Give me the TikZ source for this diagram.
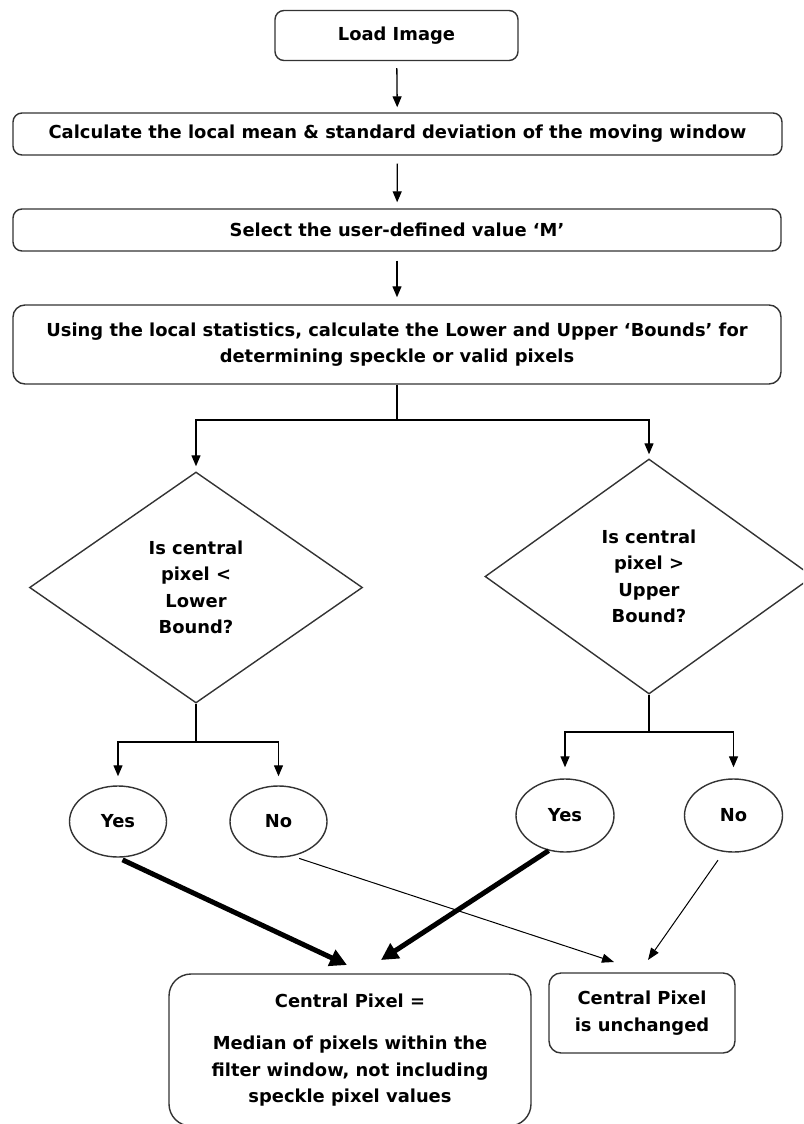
\documentclass[tikz,border=0pt]{standalone}
\usepackage{fontspec}
\setmainfont{DejaVu Sans}
\usetikzlibrary{shapes.geometric,arrows.meta}

\tikzset{
  base/.style={draw=black!80, line width=1.4pt, inner sep=0pt, align=center,
    font=\bfseries\fontsize{17.9}{26.5}\selectfont},
  procbox/.style={base, rectangle, rounded corners=9pt},
  decision/.style={base, diamond},
  answer/.style={base, ellipse},
  txt/.style={inner sep=0pt, align=center, font=\bfseries\fontsize{17.9}{26.5}\selectfont},
  flow/.style={line width=1.3pt, -{Triangle[length=11pt,width=9pt]}},
  plain/.style={line width=1.3pt},
  heavy/.style={line width=5pt, -{Triangle[length=17pt,width=17pt]}},
  light/.style={line width=1pt, -{Triangle[length=12pt,width=9pt]}}
}

\begin{document}
\begin{tikzpicture}[x=1pt,y=-1pt]
\useasboundingbox (0,0) rectangle (803,1124);
\clip (0,0) rectangle (803,1124);

% process steps
\node[procbox, minimum width=243pt, minimum height=50pt] (load) at (396.5,35.5) {Load Image};
\node[procbox, minimum width=769pt, minimum height=42pt] (stats) at (397.5,134)
  {Calculate the local mean \& standard deviation of the moving window};
\node[procbox, minimum width=768pt, minimum height=42pt] (sel) at (397,230)
  {Select the user-defined value ‘M’};
\node[procbox, rounded corners=12pt, minimum width=768pt, minimum height=79pt] (bnds) at (397,344.5)
  {Using the local statistics, calculate the Lower and Upper ‘Bounds’ for\\determining speckle or valid pixels};

% decisions
\node[decision, minimum width=333pt, minimum height=231pt,
  label={[txt]center:{Is central\\pixel <\\Lower\\Bound?}}] (decL) at (196,587.5) {};
\node[decision, minimum width=328pt, minimum height=235pt,
  label={[txt]center:{Is central\\pixel >\\Upper\\Bound?}}] (decR) at (649,576.5) {};

% answers
\node[answer, minimum width=97pt, minimum height=71pt] (yesL) at (118,821.5) {Yes};
\node[answer, minimum width=97pt, minimum height=71pt] (noL) at (278.5,821.5) {No};
\node[answer, minimum width=98pt, minimum height=73pt] (yesR) at (565,815.5) {Yes};
\node[answer, minimum width=98pt, minimum height=73pt] (noR) at (733.5,815.5) {No};

% outcomes
\node[procbox, rounded corners=22pt, minimum width=362pt, minimum height=152pt] (median) at (350,1050)
  {Central Pixel =\\[16pt]Median of pixels within the\\filter window, not including\\speckle pixel values};
\node[procbox, rounded corners=12pt, minimum width=186pt, minimum height=80pt] (keep) at (642,1013)
  {Central Pixel\\is unchanged};

% junction points
\coordinate (split) at (397,420);
\coordinate (jL) at (196,742);
\coordinate (jR) at (649,732);
\coordinate (tipMedA) at (347,965);
\coordinate (tipMedB) at (381,960);
\coordinate (tipKeepA) at (614,962);
\coordinate (tipKeepB) at (648,960);

% main chain
\draw[flow, shorten <=7pt, shorten >=5pt] (load) -- (stats);
\draw[flow, shorten <=8pt, shorten >=6pt] (stats) -- (sel);
\draw[flow, shorten <=9pt, shorten >=7pt] (sel) -- (bnds);

% branch to both tests
\draw[plain] (bnds) -- (split);
\draw[flow, shorten >=5pt] (split) -| (decL.north);
\draw[flow, shorten >=4pt] (split) -| (decR.north);

% test outcomes
\draw[plain] (decL.south) -- (jL);
\draw[flow, shorten >=9pt] (jL) -| (yesL.north);
\draw[flow, shorten >=9pt] (jL) -| (noL.north);
\draw[plain] (decR.south) -- (jR);
\draw[flow, shorten >=11pt] (jR) -| (yesR.north);
\draw[flow, shorten >=11pt] (jR) -| (noR.north);

% results
\draw[heavy, shorten <=5pt] (yesL.south) -- (tipMedA);
\draw[heavy] (yesR.-115) -- (tipMedB);
\draw[light, shorten <=7pt] (noL.-68) -- (tipKeepA);
\draw[light, shorten <=10pt] (noR.-105) -- (tipKeepB);
\end{tikzpicture}
\end{document}
